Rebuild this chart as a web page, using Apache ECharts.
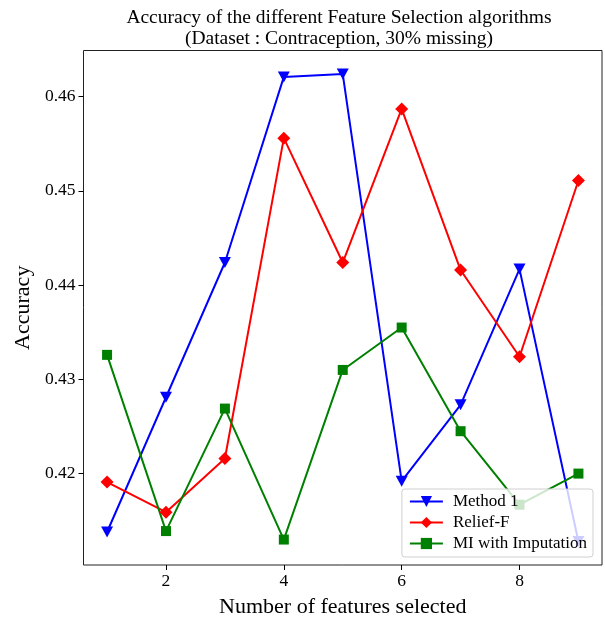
<!DOCTYPE html>
<html>
<head>
<meta charset="utf-8">
<script src="https://cdn.jsdelivr.net/npm/echarts@6/dist/echarts.min.js"></script>
<style>
html,body{margin:0;padding:0;background:#fff;}
#chart{width:605px;height:624px;}
</style>
</head>
<body>
<div id="chart"></div>
<script>
const features = [1, 2, 3, 4, 5, 6, 7, 8, 9];
const method1 = [0.4138, 0.4281, 0.4424, 0.4621, 0.4624, 0.4192, 0.4273, 0.4417, 0.4128];
const reliefF = [0.4191, 0.4159, 0.4216, 0.4556, 0.4424, 0.4587, 0.4416, 0.4324, 0.4511];
const miImput = [0.4326, 0.4139, 0.4269, 0.4130, 0.4310, 0.4355, 0.4245, 0.4167, 0.4200];
const xTicks = [2, 4, 6, 8];
const yTicks = [0.42, 0.43, 0.44, 0.45, 0.46];

const serif = '"Liberation Serif", "DejaVu Serif", serif';
const pairs = arr => features.map((x, i) => [x, arr[i]]);

const chart = echarts.init(document.getElementById('chart'), null, {renderer: 'canvas'});
chart.setOption({
  animation: false,
  backgroundColor: '#fff',
  title: {
    text: 'Accuracy of the different Feature Selection algorithms\n(Dataset : Contraception, 30% missing)',
    left: 334, top: 2, textAlign: 'center',
    textStyle: {fontFamily: serif, fontWeight: 'normal', fontSize: 19.5, lineHeight: 21, color: '#000'}
  },
  grid: {left: 83.5, right: 3, top: 50.5, bottom: 59, show: true, borderColor: '#222', borderWidth: 1, backgroundColor: 'transparent'},
  legend: {
    orient: 'vertical', right: 12, top: 489,
    padding: [4, 6, 5, 7], itemGap: 4, itemWidth: 33, itemHeight: 14,
    backgroundColor: 'rgba(255,255,255,0.8)', borderColor: '#d0d0d0', borderWidth: 1, borderRadius: 3,
    textStyle: {fontFamily: serif, fontSize: 17, color: '#000', padding: [0, 0, 0, 5]},
    data: ['Method 1', 'Relief-F', 'MI with Imputation']
  },
  xAxis: {
    type: 'value', min: 0.6, max: 9.4,
    name: 'Number of features selected', nameLocation: 'middle', nameGap: 31,
    nameTextStyle: {fontFamily: serif, fontSize: 22, color: '#000'},
    axisLine: {show: false},
    axisTick: {show: true, inside: false, length: 5, lineStyle: {color: '#000'}, customValues: xTicks},
    axisLabel: {fontFamily: serif, fontSize: 17.5, color: '#000', margin: 7, customValues: xTicks},
    splitLine: {show: false}
  },
  yAxis: {
    type: 'value', min: 0.4103, max: 0.4649,
    name: 'Accuracy', nameLocation: 'middle', nameGap: 47,
    nameTextStyle: {fontFamily: serif, fontSize: 22, color: '#000'},
    axisLine: {show: false},
    axisTick: {show: true, inside: false, length: 5, lineStyle: {color: '#000'}, customValues: yTicks},
    axisLabel: {fontFamily: serif, fontSize: 17.5, color: '#000', margin: 8, customValues: yTicks,
      formatter: v => v.toFixed(2)},
    splitLine: {show: false}
  },
  series: [
    {name: 'Method 1', type: 'line', data: pairs(method1), symbol: 'triangle', symbolRotate: 180, symbolSize: [12, 11],
      lineStyle: {color: '#0000ff', width: 2}, itemStyle: {color: '#0000ff'}},
    {name: 'Relief-F', type: 'line', data: pairs(reliefF), symbol: 'diamond', symbolSize: 13,
      lineStyle: {color: '#ff0000', width: 2}, itemStyle: {color: '#ff0000'}},
    {name: 'MI with Imputation', type: 'line', data: pairs(miImput), symbol: 'rect', symbolSize: 10,
      lineStyle: {color: '#008000', width: 2}, itemStyle: {color: '#008000'}}
  ]
});
</script>
</body>
</html>
